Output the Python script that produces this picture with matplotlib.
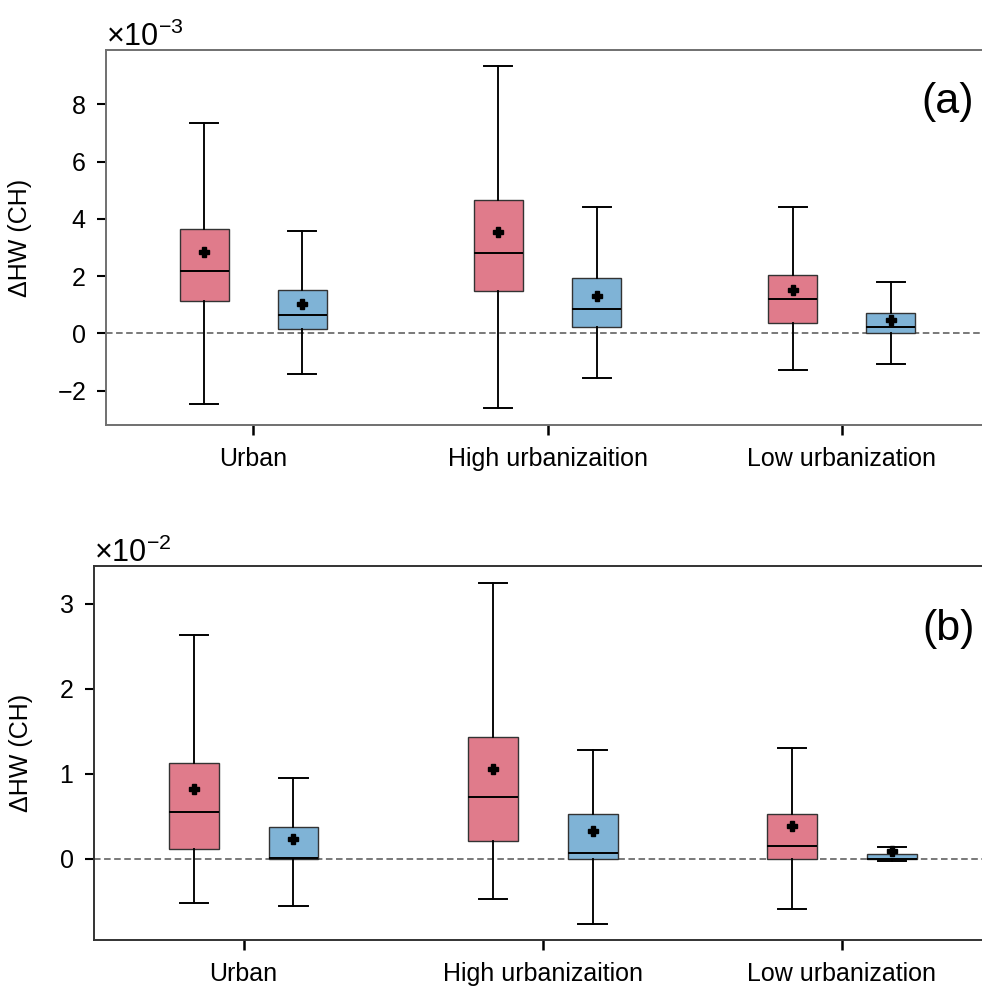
import numpy as np
import matplotlib
matplotlib.use("Agg")
import matplotlib.pyplot as plt
from matplotlib.ticker import MultipleLocator

plt.rcParams['font.family'] = ['Liberation Sans', 'DejaVu Sans']
plt.rcParams['mathtext.fontset'] = 'custom'
plt.rcParams['mathtext.rm'] = 'Liberation Sans'
plt.rcParams['mathtext.it'] = 'Liberation Sans:italic'

categories = ["Urban", "High urbanizaition", "Low urbanization"]

# Panel (a), values in units of 1e-3
a_red_whishi = np.array([7.36, 9.34, 4.43]) * 1e-3
a_red_q3 = np.array([3.64, 4.66, 2.03]) * 1e-3
a_red_med = np.array([2.19, 2.80, 1.19]) * 1e-3
a_red_q1 = np.array([1.14, 1.48, 0.37]) * 1e-3
a_red_whislo = np.array([-2.47, -2.59, -1.27]) * 1e-3
a_red_mean = np.array([2.84, 3.54, 1.52]) * 1e-3

a_blue_whishi = np.array([3.59, 4.41, 1.80]) * 1e-3
a_blue_q3 = np.array([1.51, 1.93, 0.71]) * 1e-3
a_blue_med = np.array([0.64, 0.85, 0.23]) * 1e-3
a_blue_q1 = np.array([0.14, 0.21, 0.02]) * 1e-3
a_blue_whislo = np.array([-1.43, -1.55, -1.06]) * 1e-3
a_blue_mean = np.array([1.03, 1.31, 0.46]) * 1e-3

# Panel (b), values in units of 1e-2
b_red_whishi = np.array([2.63, 3.25, 1.30]) * 1e-2
b_red_q3 = np.array([1.13, 1.43, 0.52]) * 1e-2
b_red_med = np.array([0.55, 0.73, 0.145]) * 1e-2
b_red_q1 = np.array([0.11, 0.21, 0.0]) * 1e-2
b_red_whislo = np.array([-0.52, -0.48, -0.59]) * 1e-2
b_red_mean = np.array([0.82, 1.06, 0.38]) * 1e-2

b_blue_whishi = np.array([0.95, 1.28, 0.13]) * 1e-2
b_blue_q3 = np.array([0.37, 0.52, 0.055]) * 1e-2
b_blue_med = np.array([0.005, 0.06, 0.0]) * 1e-2
b_blue_q1 = np.array([0.0, 0.0, 0.0]) * 1e-2
b_blue_whislo = np.array([-0.56, -0.77, -0.035]) * 1e-2
b_blue_mean = np.array([0.23, 0.32, 0.086]) * 1e-2

RED = "#E07B8B"
BLUE = "#7FB3D6"


def stats(whislo, q1, med, q3, whishi, mean):
    return [dict(whislo=a, q1=b, med=c, q3=d, whishi=e, mean=f, fliers=[])
            for a, b, c, d, e, f in zip(whislo, q1, med, q3, whishi, mean)]


def draw(ax, red, blue, spine_color):
    x = np.arange(len(categories))
    off = 1 / 6
    w = 1 / 6
    for st, pos, col in [(red, x - off, RED), (blue, x + off, BLUE)]:
        ax.bxp(st, positions=pos, widths=w, patch_artist=True, showmeans=True,
               showfliers=False, capwidths=0.095,
               boxprops=dict(facecolor=col, edgecolor="#333333", linewidth=1.0),
               medianprops=dict(color="black", linewidth=1.4),
               whiskerprops=dict(color="black", linewidth=1.35),
               capprops=dict(color="black", linewidth=1.4),
               meanprops=dict(marker="P", markerfacecolor="black",
                              markeredgecolor="black", markersize=7.5))
    ax.axhline(0, color="#555555", linewidth=1.1, linestyle=(0, (4.3, 2.3)), zorder=0.5)
    ax.set_xlim(-0.5, 2.5)
    ax.set_xticks(x)
    ax.set_xticklabels(categories, fontsize=18)
    ax.ticklabel_format(axis='y', style='sci', scilimits=(0, 0), useMathText=True)
    ax.yaxis.get_offset_text().set_fontsize(22)
    ax.tick_params(axis='y', labelsize=18, length=6.5, width=1.5, pad=8, direction='out')
    ax.tick_params(axis='x', length=7, width=1.8, pad=9, direction='out')
    ax.set_ylabel("ΔHW (CH)", fontsize=18)
    for s in ax.spines.values():
        s.set_color(spine_color)
        s.set_linewidth(1.4)


fig = plt.figure(figsize=(9.82, 9.92), dpi=100)
W, H = 982, 992
ax1 = fig.add_axes([106 / W, 1 - 425 / H, (989 - 106) / W, 375 / H])
ax2 = fig.add_axes([94 / W, 1 - 940 / H, (991.6 - 94) / W, (940 - 565.7) / H])

draw(ax1, stats(a_red_whislo, a_red_q1, a_red_med, a_red_q3, a_red_whishi, a_red_mean),
     stats(a_blue_whislo, a_blue_q1, a_blue_med, a_blue_q3, a_blue_whishi, a_blue_mean), "#707070")
ax1.set_ylim(-3.2e-3, 9.9e-3)
ax1.yaxis.set_major_locator(MultipleLocator(2e-3))
ax1.yaxis.set_label_coords(-0.084, 0.5)
ax1.text(0.983, 0.86, "(a)", transform=ax1.transAxes, fontsize=31, ha="right", va="center")

draw(ax2, stats(b_red_whislo, b_red_q1, b_red_med, b_red_q3, b_red_whishi, b_red_mean),
     stats(b_blue_whislo, b_blue_q1, b_blue_med, b_blue_q3, b_blue_whishi, b_blue_mean), "#333333")
ax2.set_ylim(-0.96e-2, 3.45e-2)
ax2.yaxis.set_major_locator(MultipleLocator(1e-2))
ax2.yaxis.set_label_coords(-0.068, 0.5)
ax2.text(0.981, 0.83, "(b)", transform=ax2.transAxes, fontsize=31, ha="right", va="center")

fig.savefig("out.png", dpi=100)
